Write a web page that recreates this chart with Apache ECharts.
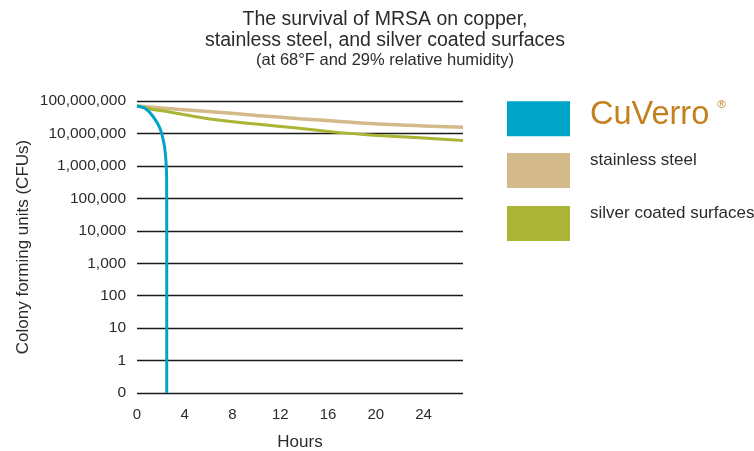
<!DOCTYPE html>
<html><head><meta charset="utf-8">
<script src="https://cdn.jsdelivr.net/npm/echarts@6/dist/echarts.min.js"></script>
<style>html,body{margin:0;padding:0;background:#fff}#c{width:754px;height:451px}</style>
</head><body><div id="c"></div>
<script>
// ---- data ----
const yTickLabels = ['0','1','10','100','1,000','10,000','100,000','1,000,000','10,000,000','100,000,000'];
const xTickLabels = ['0','4','8','12','16','20','24'];
const seriesNames = ['CuVerro', 'stainless steel', 'silver coated surfaces'];
const copperHours = [0, 0.67, 1.36, 1.92, 2.28, 2.43, 2.48, 2.49, 2.49];
const copperCFU   = [70e6, 59.5e6, 32.7e6, 14.4e6, 4.4e6, 1.34e6, 4e5, 1e4, 0];
const steelHours  = [0, 3.4, 6.8, 10, 13.6, 17, 20.6, 24, 27.3];
const steelCFU    = [70e6, 56e6, 45e6, 36e6, 28.5e6, 23.4e6, 19.1e6, 17.1e6, 15.4e6];
const silverHours = [0, 1.2, 2.6, 4.5, 6.8, 10, 13.6, 17, 20.6, 24, 27.3];
const silverCFU   = [70e6, 56e6, 46.8e6, 35e6, 25.9e6, 19.4e6, 14.4e6, 10.6e6, 8.5e6, 7.2e6, 6.1e6];

// map CFU to axis level: 0 -> 0, 1 -> 1, 10 -> 2 ...
const lvl = v => v <= 0 ? 0 : Math.log10(v) + 1;
const pts = (xs, ys) => xs.map((x, i) => [x, lvl(ys[i])]);

const colors = ['#00a4c9', '#d4b98b', '#aab535'];
const chart = echarts.init(document.getElementById('c'));
const font = 'Liberation Sans, Arial, sans-serif';
const legendRich = {
  cu: {fontFamily: font, fontSize: 32.5, color: '#c4801f', padding: [0, 0, 8, 15], lineHeight: 20},
  reg: {fontFamily: font, fontSize: 11.5, color: '#c4801f', padding: [0, 0, 27, 8], lineHeight: 1},
  t: {fontFamily: font, fontSize: 17, color: '#2b2b2b', padding: [0, 0, 21, 15], lineHeight: 10}
};
const legendTops = [98.25, 151.5, 204.5];
const legends = seriesNames.map((n, i) => ({
  orient: 'vertical', left: 507, top: legendTops[i], padding: 0,
  itemWidth: 63, itemHeight: 35, icon: 'rect',
  data: [n],
  formatter: s => s === 'CuVerro' ? '{cu|CuVerro}{reg|®}' : '{t|' + s + '}',
  textStyle: {fontFamily: font, lineHeight: 10, rich: legendRich}
}));

chart.setOption({
  animation: false,
  title: {
    text: 'The survival of MRSA on copper,\nstainless steel, and silver coated surfaces',
    subtext: '(at 68°F and 29% relative humidity)',
    left: 385, top: 8.5, textAlign: 'center', itemGap: 1, padding: 0,
    textStyle: {fontFamily: font, fontSize: 19.5, fontWeight: 'normal', color: '#2b2b2b', lineHeight: 21.5},
    subtextStyle: {fontFamily: font, fontSize: 16.5, color: '#2b2b2b', lineHeight: 16}
  },
  legend: legends,
  grid: {left: 137, right: 291, top: 101, bottom: 58, outerBoundsMode: 'none', containLabel: false},
  xAxis: {
    type: 'value', min: 0, max: 27.3, interval: 4,
    name: 'Hours', nameLocation: 'middle', nameGap: 41,
    nameTextStyle: {fontFamily: font, fontSize: 17, color: '#2b2b2b'},
    axisLine: {show: false}, axisTick: {show: false}, splitLine: {show: false},
    axisLabel: {fontFamily: font, fontSize: 15, color: '#2b2b2b', margin: 14,
      formatter: v => { const s = String(v); return xTickLabels.indexOf(s) >= 0 ? s : ''; }}
  },
  yAxis: {
    type: 'value', min: 0, max: 9, interval: 1,
    name: 'Colony forming units (CFUs)', nameLocation: 'middle', nameGap: 105, nameRotate: 90,
    nameTextStyle: {fontFamily: font, fontSize: 17, color: '#2b2b2b'},
    axisLine: {show: false}, axisTick: {show: false},
    splitLine: {lineStyle: {color: '#1a1a1a', width: 1.3}},
    axisLabel: {fontFamily: font, fontSize: 15.5, color: '#2b2b2b', margin: 11,
      formatter: v => yTickLabels[Math.round(v)]}
  },
  series: [
    {name: seriesNames[0], type: 'line', data: pts(copperHours, copperCFU), smooth: 0.3, showSymbol: false,
     itemStyle: {color: colors[0]}, lineStyle: {color: colors[0], width: 3}, z: 5},
    {name: seriesNames[1], type: 'line', data: pts(steelHours, steelCFU), smooth: true, showSymbol: false,
     itemStyle: {color: colors[1]}, lineStyle: {color: colors[1], width: 3.5}, z: 3},
    {name: seriesNames[2], type: 'line', data: pts(silverHours, silverCFU), smooth: true, showSymbol: false,
     itemStyle: {color: colors[2]}, lineStyle: {color: colors[2], width: 3}, z: 4}
  ]
});
</script></body></html>
